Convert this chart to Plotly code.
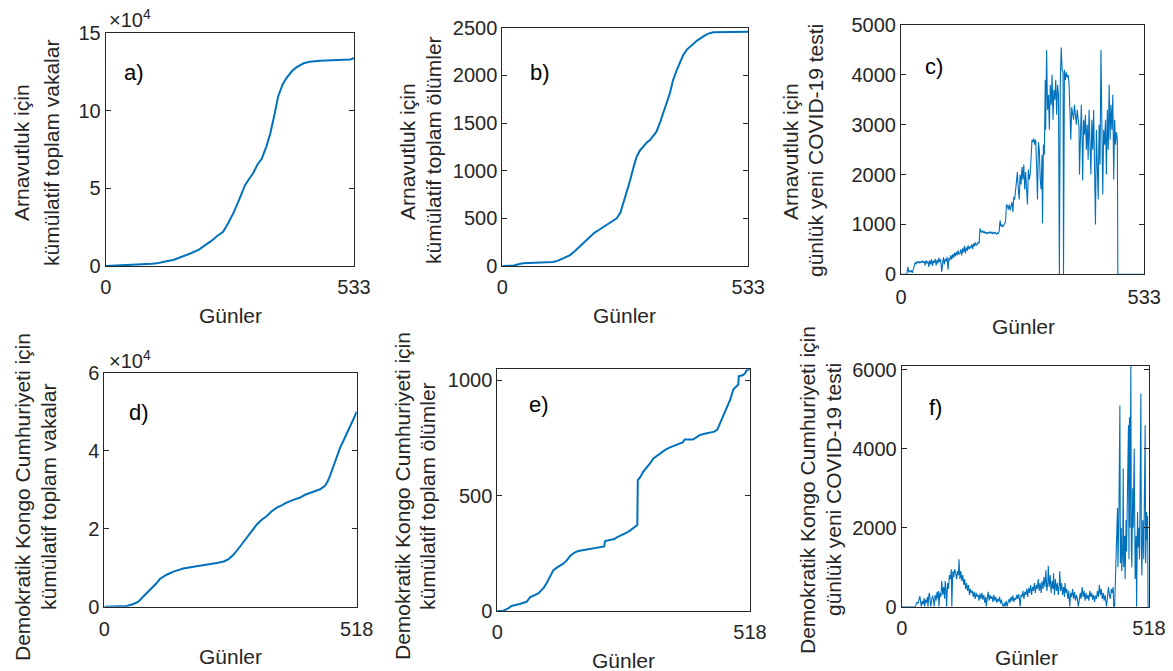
import plotly.graph_objects as go

W, H = 1173, 671
BLUE = "#0072BD"
DARK = "#262626"
FONT = "Liberation Sans, Arial, Helvetica, sans-serif"

# ---------------- data ----------------
# a) Albania cumulative cases (day, cases)
alb_cases = [(0,0),(10,100),(20,400),(40,800),(60,1000),(80,1200),(100,1400),(110,1700),(120,2500),
             (130,3100),(145,3900),(160,5500),(170,6800),(183,8200),(200,10500),(215,13500),(226,16000),
             (240,19500),(252,22000),(262,27000),(274,34000),(287,43000),(299,52000),(310,57000),
             (317,60000),(326,65500),(335,69000),(345,77000),(353,85000),(362,97000),(370,109000),
             (380,117000),(388,121000),(400,125500),(410,128000),(425,130500),(438,131500),
             (460,132200),(487,132400),(510,132600),(525,132900),(533,133700)]

# b) Albania cumulative deaths
alb_deaths = [(0,0),(25,5),(35,18),(45,28),(70,33),(90,36),(110,42),(121,56),(135,85),(147,115),
              (158,160),(168,203),(180,255),(190,300),(200,350),(210,380),(222,420),(235,465),
              (248,500),(256,560),(262,650),(270,780),(277,900),(284,1030),(291,1147),(298,1210),
              (305,1252),(313,1295),(320,1322),(327,1365),(334,1409),(342,1510),(349,1602),
              (356,1710),(363,1811),(370,1950),(378,2056),(385,2140),(392,2213),(400,2270),
              (410,2318),(422,2365),(435,2406),(445,2435),(457,2451),(479,2455),(533,2458)]

# c) Albania daily new tests
alb_tests = [(0,0),(11,0),(13,20),(15,150),(17,40),(19,70),(21,50),(23,80),(25,30),(27,120),(29,210),
             (31,240),(33,200),(35,250),(37,230),(39,260),(41,220),(43,250),(45,240),(47,270),(49,230),
             (51,260),(53,180),(55,280),(57,220),(59,260),(61,150),(63,280),(65,200),(67,300),(69,170),
             (71,270),(73,230),(75,310),(77,180),(79,290),(81,220),(83,330),(85,250),(87,300),(89,50),
             (91,280),(93,340),(95,200),(97,310),(99,260),(101,350),(103,90),(105,330),(107,280),
             (109,380),(111,300),(113,400),(115,330),(117,430),(119,360),(121,450),(123,380),(125,480),
             (127,400),(129,420),(131,500),(133,380),(135,520),(137,440),(139,570),(141,420),(143,540),
             (145,470),(147,580),(149,500),(151,560),(153,520),(155,600),(157,510),(159,620),(161,560),
             (163,640),(165,580),(167,600),(169,650),(171,620),(173,920),(175,860),(177,840),(179,880),
             (181,830),(183,860),(185,820),(187,850),(189,810),(191,840),(193,830),(195,860),(197,820),
             (199,850),(201,810),(203,840),(205,820),(207,850),(209,800),(211,830),(213,820),(215,860),
             (217,1080),(219,960),(221,1000),(223,950),(225,990),(227,1000),(229,1050),(231,1400),
             (233,1380),(235,1300),(237,1400),(239,1280),(241,1350),(243,1450),(245,1250),(247,1550),
             (249,1500),(251,1650),(253,1800),(255,2050),(257,1700),(259,1500),(261,2000),(263,1800),
             (265,2150),(267,1900),(269,2200),(271,1700),(273,2050),(275,1650),(277,1400),(279,2100),
             (281,1900),(283,2000),(285,2300),(287,2700),(289,2650),(291,2720),(293,2600),(295,2700),
             (297,2200),(299,1500),(301,2650),(303,2500),(305,1900),(307,1700),(309,2400),(310,1020),
             (312,2600),(314,2400),(316,3900),(317,2900),(319,4500),(321,3300),(323,3600),(325,2900),
             (327,3800),(329,3400),(331,4000),(333,3100),(335,3700),(337,3500),(339,3900),(341,3200),
             (343,3800),(345,3600),(347,0),(349,3900),(351,4550),(353,4100),(355,4050),(356,0),
             (358,4100),(360,3900),(362,4050),(364,3950),(366,4000),(368,3850),(370,3300),(372,2700),
             (374,3350),(376,3200),(378,3100),(380,3400),(382,3150),(384,3000),(386,3300),(388,3100),
             (390,2950),(391,2000),(393,3000),(395,3400),(397,2600),(398,1880),(400,3100),(402,2800),
             (404,3200),(406,2500),(408,3000),(410,2300),(412,3300),(414,2700),(416,2000),(418,3100),
             (420,2500),(422,3300),(424,2200),(426,1000),(428,2900),(430,2300),(432,1500),(434,3000),
             (436,2200),(438,4500),(440,2400),(442,1600),(444,2900),(446,2600),(448,3100),(450,2000),
             (452,3300),(454,2500),(456,3800),(458,2700),(460,3400),(462,2900),(464,3600),(466,1900),
             (468,3100),(470,2600),(472,2850),(474,2700),(475,0),(533,0)]

# d) DR Congo cumulative cases
cod_cases = [(0,0),(20,50),(46,170),(60,700),(70,1300),(80,2600),(94,4300),(107,6000),(114,7100),
             (128,8200),(142,9000),(162,9800),(180,10200),(196,10600),(215,10900),(231,11200),
             (245,11600),(255,12200),(265,13300),(279,15500),(290,17300),(299,18900),(313,21100),
             (323,22300),(333,23200),(343,24400),(354,25400),(364,26000),(374,26700),(388,27400),
             (402,28000),(412,28700),(422,29200),(433,29700),(443,30100),(453,31000),(458,32000),
             (463,33500),(470,36000),(477,38700),(484,40800),(491,42600),(498,44400),(504,46000),
             (511,48000),(518,50000)]

# e) DR Congo cumulative deaths
cod_deaths = [(0,0),(12,0),(23,12),(29,22),(46,30),(60,40),(64,50),(67,59),(84,76),(95,100),(101,120),
              (108,150),(115,177),(122,188),(128,195),(135,205),(142,218),(150,240),(156,250),
              (163,258),(169,261),(180,265),(190,271),(205,275),(217,278),(219,280),(221,303),
              (234,307),(240,312),(245,319),(255,328),(265,339),(272,348),(279,358),(285,368),
              (287,372),(288,567),(293,580),(299,603),(306,620),(313,639),(320,661),(327,672),
              (333,683),(344,698),(354,709),(364,716),(374,726),(380,730),(384,743),(401,743),
              (408,752),(415,762),(425,768),(435,772),(445,777),(451,786),(457,815),(463,849),
              (470,880),(477,913),(484,960),(490,975),(494,981),(495,1017),(504,1022),(508,1030),
              (511,1043),(518,1048)]

# f) DR Congo daily new tests
cod_tests = [(0,0),(28,0),(30,50),(32,120),(34,80),(36,200),(38,270),(40,100),(41,0),(43,150),(45,60),
             (47,220),(48,0),(50,180),(52,100),(54,250),(55,0),(57,300),(58,350),(60,100),(61,0),
             (63,200),(65,280),(67,120),(68,0),(70,300),(72,150),(74,380),(76,200),(77,400),(78,0),
             (80,350),(82,250),(84,650),(86,300),(88,500),(90,200),(91,650),(93,400),(94,0),(96,600),
             (98,450),(100,800),(102,700),(104,950),(105,0),(107,900),(109,750),(111,950),(113,850),
             (115,700),(117,900),(119,800),(120,1200),(122,700),(124,900),(126,650),(128,800),
             (130,550),(132,700),(134,450),(136,600),(138,400),(140,550),(142,300),(144,450),
             (146,350),(148,400),(150,250),(152,380),(154,200),(156,350),(158,250),(160,300),
             (162,150),(164,330),(166,200),(168,350),(170,180),(172,300),(174,100),(176,250),(177,0),
             (179,200),(181,380),(183,150),(185,300),(187,200),(189,260),(191,120),(193,300),
             (195,150),(197,250),(199,100),(201,200),(203,130),(205,250),(207,80),(209,180),(211,50),
             (213,0),(215,100),(217,0),(219,150),(221,0),(223,120),(225,200),(227,100),(229,250),
             (231,150),(233,280),(235,120),(237,220),(239,180),(241,300),(243,200),(245,320),
             (247,150),(248,0),(250,300),(252,250),(254,400),(256,200),(258,380),(260,300),(262,450),
             (264,250),(266,480),(268,350),(270,550),(272,300),(274,500),(276,400),(278,600),
             (280,350),(282,550),(284,450),(286,700),(288,400),(290,600),(292,350),(294,650),
             (296,450),(298,750),(300,500),(302,920),(304,400),(306,600),(307,1040),(309,500),
             (311,800),(313,350),(315,650),(317,450),(318,850),(320,300),(322,700),(324,400),
             (326,600),(328,300),(330,550),(331,900),(333,400),(335,600),(337,300),(339,500),
             (341,250),(342,600),(344,350),(346,450),(348,200),(350,400),(352,0),(354,350),(356,250),
             (358,450),(360,200),(362,380),(364,150),(366,300),(368,200),(370,0),(372,250),(374,350),
             (376,200),(378,500),(380,250),(382,400),(384,150),(386,350),(388,200),(390,300),
             (392,150),(394,400),(396,250),(398,350),(400,180),(402,300),(404,120),(406,280),
             (408,200),(410,400),(412,250),(414,550),(416,300),(418,450),(420,200),(422,350),
             (424,150),(426,300),(428,100),(429,0),(431,250),(433,500),(435,300),(437,200),(439,450),
             (441,350),(443,500),(444,0),(446,0),(448,900),(450,1200),(452,2500),(453,1000),
             (455,2400),(457,5100),(458,1100),(460,2000),(461,900),(463,1500),(464,3500),(465,1000),
             (467,1800),(468,700),(470,2200),(471,1400),(473,3000),(475,4600),(476,1200),(477,4800),
             (478,2000),(479,4700),(480,6100),(481,1500),(482,1000),(484,3000),(485,2000),(487,4000),
             (488,1200),(489,700),(491,1800),(492,0),(494,2400),(495,1500),(497,2000),(498,1200),
             (499,2300),(501,5400),(502,1500),(503,800),(505,2200),(506,2000),(507,1200),(508,2300),
             (510,4600),(511,1100),(512,1500),(513,2400),(514,1700),(515,2300),(516,0),(518,0)]

# axis settings (ranges / ticks)
x_max = [533, 533, 533, 518, 518, 518]
y_max = [150000, 2500, 5000, 60000, 1047, 6100]
y_ticks = [[0, 50000, 100000, 150000], [0, 500, 1000, 1500, 2000, 2500],
           [0, 1000, 2000, 3000, 4000, 5000], [0, 20000, 40000, 60000],
           [0, 500, 1000], [0, 2000, 4000, 6000]]
y_ticktext = [["0", "5", "10", "15"], ["0", "500", "1000", "1500", "2000", "2500"],
              ["0", "1000", "2000", "3000", "4000", "5000"], ["0", "2", "4", "6"],
              ["0", "500", "1000"], ["0", "2000", "4000", "6000"]]
panel_letters = ["a)", "b)", "c)", "d)", "e)", "f)"]
ytitle_l1 = ["Arnavutluk için", "Arnavutluk için", "Arnavutluk için",
             "Demokratik Kongo Cumhuriyeti için", "Demokratik Kongo Cumhuriyeti için",
             "Demokratik Kongo Cumhuriyeti için"]
ytitle_l2 = ["kümülatif toplam vakalar", "kümülatif toplam ölümler", "günlük yeni COVID-19 testi",
             "kümülatif toplam vakalar", "kümülatif toplam ölümler", "günlük yeni COVID-19 testi"]
xtitle = "Günler"

series = [alb_cases, alb_deaths, alb_tests, cod_cases, cod_deaths, cod_tests]
widths = [2, 2, 1.1, 2, 2, 1.1]

# ---------------- layout geometry (pixels) ----------------
# (left, right, top, bottom)
boxes = [(105.7, 354.0, 33.0, 266.0), (502.3, 748.3, 27.7, 266.0), (901.0, 1144.3, 25.0, 274.3),
         (104.3, 356.7, 372.7, 606.7), (497.3, 750.0, 369.3, 611.0), (901.7, 1149.0, 366.0, 606.7)]
xlab_standoff = [3, 3, 5, 4, 3, 3]
letter_pos = [(134, 72), (540, 72), (934, 67), (139, 412), (539, 405), (935, 407)]
ytitle_pos = [((22, 153), (52, 153)), ((407, 152), (433, 150)), ((790, 152), (815, 151)),
              ((22, 497), (48, 497)), ((402, 496), (427, 496)), ((807, 490), (833, 490))]
xtitle_pos = [(230, 315), (624, 315), (1023, 326), (230, 656), (623, 660), (1026, 657)]
exp_pos = [(107, 18), None, None, (107, 359), None, None]

def px(x):
    return x / W

def py(y):
    return 1 - y / H

fig = go.Figure()
layout = dict(width=W, height=H, margin=dict(l=0, r=0, t=0, b=0, pad=0, autoexpand=False),
              autosize=False,
              paper_bgcolor="white", plot_bgcolor="white", showlegend=False,
              font=dict(family=FONT, color=DARK))
annotations = []

for i, data in enumerate(series):
    n = "" if i == 0 else str(i + 1)
    days = [d for d, _ in data]
    vals = [v for _, v in data]
    fig.add_trace(go.Scatter(x=days, y=vals, mode="lines",
                             line=dict(color=BLUE, width=widths[i]),
                             xaxis="x" + n, yaxis="y" + n, hoverinfo="skip"))
    l, r, t, b = boxes[i]
    common = dict(showline=True, linecolor=DARK, linewidth=1, mirror="ticks",
                  ticks="inside", ticklen=5, tickwidth=1, tickcolor=DARK,
                  showgrid=False, zeroline=False, automargin=False,
                  tickfont=dict(family=FONT, size=20, color=DARK))
    layout["xaxis" + n] = dict(common, domain=[px(l), px(r)], range=[0, x_max[i]],
                               tickvals=[0, x_max[i]], ticktext=["0", str(x_max[i])],
                               anchor="y" + n, ticklabelstandoff=xlab_standoff[i])
    layout["yaxis" + n] = dict(common, domain=[py(b), py(t)], range=[0, y_max[i]],
                               tickvals=y_ticks[i], ticktext=y_ticktext[i],
                               anchor="x" + n)
    # panel letter
    lx, ly = letter_pos[i]
    annotations.append(dict(text=panel_letters[i], x=px(lx), y=py(ly), xref="paper", yref="paper",
                            showarrow=False, xanchor="center", yanchor="middle",
                            font=dict(family=FONT, size=22, color="black")))
    # y titles (two lines)
    for txt, (tx, ty) in zip([ytitle_l1[i], ytitle_l2[i]], ytitle_pos[i]):
        annotations.append(dict(text=txt, x=px(tx), y=py(ty), xref="paper", yref="paper",
                                showarrow=False, textangle=-90, xanchor="center", yanchor="middle",
                                font=dict(family=FONT, size=21, color=DARK)))
    # x title
    gx, gy = xtitle_pos[i]
    annotations.append(dict(text=xtitle, x=px(gx), y=py(gy), xref="paper", yref="paper",
                            showarrow=False, xanchor="center", yanchor="middle",
                            font=dict(family=FONT, size=21, color=DARK)))
    # exponent
    if exp_pos[i] is not None:
        ex, ey = exp_pos[i]
        annotations.append(dict(text="×10<sup>4</sup>", x=px(ex), y=py(ey), xref="paper",
                                yref="paper", showarrow=False, xanchor="left", yanchor="middle",
                                font=dict(family=FONT, size=20, color=DARK)))

layout["annotations"] = annotations
fig.update_layout(**layout)
fig.write_html("out.html", config={"displayModeBar": False, "staticPlot": True},
               post_script="document.body.style.margin='0';document.body.style.overflow='hidden';")
